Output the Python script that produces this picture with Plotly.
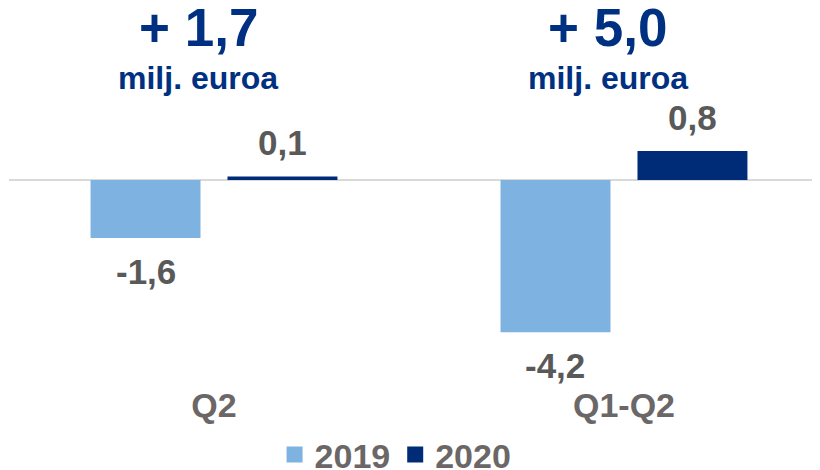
import plotly.graph_objects as go

categories = ["Q2", "Q1-Q2"]
series_names = ["2019", "2020"]
values_2019 = [-1.6, -4.2]
values_2020 = [0.1, 0.8]
labels_2019 = ["-1,6", "-4,2"]
labels_2020 = ["0,1", "0,8"]
headline_values = ["+ 1,7", "+ 5,0"]
headline_unit = "milj. euroa"

c2019 = "#7EB2E1"
c2020 = "#002C77"
navy_text = "#003082"
gray_text = "#595959"
light_gray_text = "#6B6767"
FONT = "Liberation Sans, Arial, sans-serif"

fig = go.Figure()
fig.add_bar(x=categories, y=values_2019, name=series_names[0],
            marker=dict(color=c2019, line=dict(width=0)), showlegend=False)
fig.add_bar(x=categories, y=values_2020, name=series_names[1],
            marker=dict(color=c2020, line=dict(width=0)), showlegend=False)

# legend entries with larger square symbols
for nm, col in zip(series_names, [c2019, c2020]):
    fig.add_scatter(x=[None], y=[None], mode="markers", name="<b>" + nm + "</b>",
                    marker=dict(symbol="square", size=19, color=col))

annotations = []
for series_vals, series_labels, xs in [(values_2019, labels_2019, -68.5),
                                       (values_2020, labels_2020, 68.5)]:
    for cat, v, t in zip(categories, series_vals, series_labels):
        annotations.append(dict(x=cat, y=v, text="<b>" + t + "</b>", xshift=xs,
                                yshift=-12 if v < 0 else 12,
                                yanchor="top" if v < 0 else "bottom",
                                showarrow=False,
                                font=dict(family=FONT, size=35, color=gray_text)))
for cat, hv in zip(categories, headline_values):
    annotations.append(dict(x=cat, y=1, yref="paper", yshift=73, xshift=-16,
                            text="<b>" + hv + "</b>", showarrow=False,
                            yanchor="middle",
                            font=dict(family=FONT, size=53, color=navy_text)))
    annotations.append(dict(x=cat, y=1, yref="paper", yshift=22, xshift=-16,
                            text="<b>" + headline_unit + "</b>", showarrow=False,
                            yanchor="middle",
                            font=dict(family=FONT, size=32, color=navy_text)))

fig.update_layout(
    width=820, height=470,
    margin=dict(l=1, r=0, t=92, b=93, autoexpand=False),
    paper_bgcolor="white", plot_bgcolor="white",
    barmode="group", bargap=0.332, bargroupgap=0.197,
    font=dict(family=FONT),
    annotations=annotations,
    legend=dict(orientation="h", x=0.472, xanchor="center", y=-0.2456, yanchor="middle",
                font=dict(family=FONT, size=34, color=light_gray_text),
                itemsizing="trace", traceorder="normal"),
    xaxis=dict(range=[-0.5, 1.4976], showgrid=False, showline=False, ticks="",
               tickfont=dict(family=FONT, size=34, color=light_gray_text),
               tickprefix="<b>", ticksuffix="</b>", ticklabelstandoff=-3,
               fixedrange=True),
    yaxis=dict(range=[-5.66, 2.21], showgrid=False, showticklabels=False,
               zeroline=True, zerolinecolor="#D9D9D9", zerolinewidth=2,
               fixedrange=True),
)
fig.write_html("out.html")
